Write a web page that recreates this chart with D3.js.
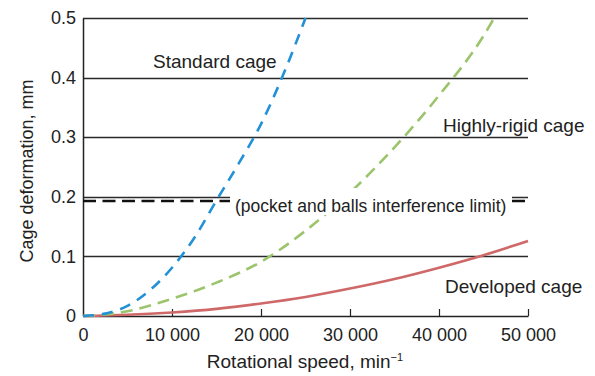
<!DOCTYPE html>
<html>
<head>
<meta charset="utf-8">
<script src="https://cdn.jsdelivr.net/npm/d3@7"></script>
<style>
  html, body { margin: 0; padding: 0; background: #fff; }
  svg { display: block; font-family: "Liberation Sans", Arial, Helvetica, sans-serif; }
</style>
</head>
<body>
<svg id="chart" width="595" height="376"></svg>
<script>
// ---- data ----
const xTicks = [0, 10000, 20000, 30000, 40000, 50000];
const xTickLabels = ["0", "10 000", "20 000", "30 000", "40 000", "50 000"];
const yTicks = [0, 0.1, 0.2, 0.3, 0.4, 0.5];
const yTickLabels = ["0", "0.1", "0.2", "0.3", "0.4", "0.5"];

const standardSpeed = [0, 2500, 5000, 7500, 10000, 12500, 15000, 17500, 20000, 22500, 25000];
const standardDef   = [0, 0.004, 0.017, 0.043, 0.081, 0.131, 0.194, 0.256, 0.322, 0.405, 0.5];

const rigidSpeed = [0, 5000, 10000, 15000, 20000, 25000, 30000, 35000, 40000, 45000, 46200];
const rigidDef   = [0, 0.008, 0.029, 0.056, 0.091, 0.143, 0.207, 0.283, 0.37, 0.47, 0.5];

const developedSpeed = [0, 5000, 10000, 15000, 20000, 25000, 30000, 35000, 40000, 45000, 50000];
const developedDef   = [0, 0.002, 0.006, 0.012, 0.021, 0.032, 0.046, 0.062, 0.081, 0.102, 0.126];

const limitValue = 0.193;

// ---- layout ----
const svg = d3.select("#chart");
const m = { left: 83, right: 528, top: 18, bottom: 316 };
const x = d3.scaleLinear().domain([0, 50000]).range([m.left, m.right]);
const y = d3.scaleLinear().domain([0, 0.5]).range([m.bottom, m.top]);
const FS = 18;
const FA = 19;

// gridlines
svg.append("g").selectAll("line").data(yTicks.filter(d => d > 0)).join("line")
  .attr("x1", m.left).attr("x2", m.right)
  .attr("y1", d => Math.round(y(d)) + 0.5).attr("y2", d => Math.round(y(d)) + 0.5)
  .attr("stroke", "#2a2a2a").attr("stroke-width", 1.3);

// y axis
const yAxis = d3.axisLeft(y).tickValues(yTicks).tickSize(0).tickPadding(7)
  .tickFormat((d, i) => yTickLabels[i]);
const gy = svg.append("g").attr("transform", `translate(${m.left},0)`).call(yAxis);
gy.select(".domain").attr("stroke", "#222").attr("stroke-width", 1.5);
gy.selectAll("text").attr("font-size", FS).attr("fill", "#222").attr("font-family", "Liberation Sans, Arial, sans-serif");

// x axis
const xAxis = d3.axisBottom(x).tickValues(xTicks).tickSizeInner(-7).tickSizeOuter(0).tickPadding(12)
  .tickFormat((d, i) => xTickLabels[i]);
const gx = svg.append("g").attr("transform", `translate(0,${m.bottom})`).call(xAxis);
gx.select(".domain").attr("stroke", "#222").attr("stroke-width", 1.5);
gx.selectAll(".tick line").attr("stroke", "#222").attr("stroke-width", 1.2);
gx.selectAll(".tick").filter(d => d === 0).select("line").remove();
gx.selectAll("text").attr("font-size", FS).attr("fill", "#222").attr("font-family", "Liberation Sans, Arial, sans-serif");

// curves
const line = d3.line().x(d => x(d[0])).y(d => y(d[1])).curve(d3.curveMonotoneX);
const series = [
  { sp: developedSpeed, v: developedDef, color: "#cf6868", dash: null, w: 2.6 },
  { sp: rigidSpeed, v: rigidDef, color: "#9cc46c", dash: "12,7", w: 2.6 },
  { sp: standardSpeed, v: standardDef, color: "#2391d6", dash: "11,8", w: 2.6 }
];
svg.append("g").selectAll("path").data(series).join("path")
  .attr("d", s => line(s.sp.map((d, i) => [d, s.v[i]])))
  .attr("fill", "none")
  .attr("stroke", s => s.color)
  .attr("stroke-width", s => s.w)
  .attr("stroke-dasharray", s => s.dash);

// interference limit line
svg.append("line")
  .attr("x1", m.left).attr("x2", m.right)
  .attr("y1", y(limitValue)).attr("y2", y(limitValue))
  .attr("stroke", "#111").attr("stroke-width", 2.6).attr("stroke-dasharray", "13,6.5");

// label background
svg.append("rect").attr("x", 230).attr("y", 188).attr("width", 282).attr("height", 27).attr("fill", "#fff");

// annotations
const ann = [
  { t: "Standard cage", x: 153, y: 68 },
  { t: "Highly-rigid cage", x: 443, y: 132 },
  { t: "(pocket and balls interference limit)", x: 235, y: 212 },
  { t: "Developed cage", x: 445, y: 293 }
];
svg.append("g").selectAll("text").data(ann).join("text")
  .attr("x", d => d.x).attr("y", d => d.y)
  .attr("font-size", d => d.t.startsWith("(") ? 17.5 : FA)
  .attr("fill", "#222")
  .text(d => d.t);

// axis titles
const xt = svg.append("text").attr("x", 305).attr("y", 368).attr("text-anchor", "middle")
  .attr("font-size", FA).attr("fill", "#222");
xt.append("tspan").text("Rotational speed, min");
xt.append("tspan").attr("font-size", 11).attr("dy", -7).text("−1");

svg.append("text").attr("transform", "translate(33,171) rotate(-90)")
  .attr("text-anchor", "middle").attr("font-size", FS).attr("fill", "#222")
  .text("Cage deformation, mm");
</script>
</body>
</html>
